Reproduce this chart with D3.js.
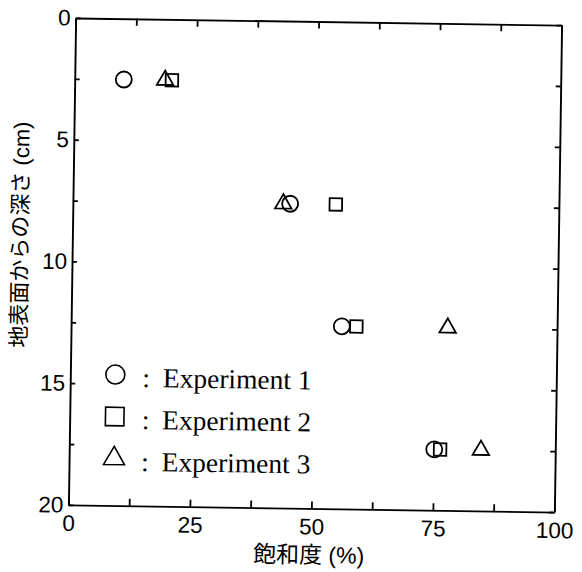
<!DOCTYPE html>
<html>
<head>
<meta charset="utf-8">
<script src="https://cdn.jsdelivr.net/npm/d3@7/dist/d3.min.js"></script>
<style>
  html, body { margin: 0; padding: 0; background: #fff; }
  svg { display: block; }
</style>
</head>
<body>
<script>
// Saturation (%) measured at each depth below the ground surface (cm)
const depths = [2.5, 7.5, 12.5, 17.5];
const experiment1 = [10.1, 44.7, 55.7, 75.1];
const experiment2 = [20.0, 54.1, 58.7, 76.3];
const experiment3 = [18.6, 43.3, 77.5, 84.7];
const seriesNames = ["Experiment 1", "Experiment 2", "Experiment 3"];
const xTicks = [0, 12.5, 25, 37.5, 50, 62.5, 75, 87.5, 100];
const xTickLabels = [0, 25, 50, 75, 100];
const yTicks = [0, 2.5, 5, 7.5, 10, 12.5, 15, 17.5, 20];
const yTickLabels = [0, 5, 10, 15, 20];
const xTitle = "飽和度 (%)";
const yTitle = "地表面からの深さ (cm)";

const W = 582, H = 572;
const plotLeft = 72, plotRight = 558, plotTop = 21.5, plotBottom = 508.5;

const svg = d3.select("body").append("svg")
  .attr("width", W).attr("height", H)
  .attr("viewBox", `0 0 ${W} ${H}`);

svg.append("rect").attr("width", W).attr("height", H).attr("fill", "#fff");

// whole figure sits slightly tilted on the page
const g = svg.append("g").attr("transform", "rotate(0.85, 315, 265)");

const x = d3.scaleLinear().domain([0, 100]).range([plotLeft, plotRight]);
const y = d3.scaleLinear().domain([0, 20]).range([plotTop, plotBottom]);

const numFont = "'Liberation Sans', Arial, sans-serif";
const serifFont = "'Liberation Serif', 'Times New Roman', serif";
const jpFont = "'Liberation Sans', 'Noto Sans CJK JP', sans-serif";

function styleAxis(sel) {
  sel.selectAll("path.domain").attr("stroke", "#000").attr("stroke-width", 1.9);
  sel.selectAll(".tick line").attr("stroke", "#000").attr("stroke-width", 1.8);
  sel.selectAll(".tick text")
    .attr("fill", "#000")
    .attr("font-family", numFont)
    .attr("font-size", 22.5);
}

const fmtX = d => xTickLabels.includes(d) ? d : "";
const fmtY = d => yTickLabels.includes(d) ? d : "";

g.append("g").attr("transform", `translate(0,${plotBottom})`)
  .call(d3.axisBottom(x).tickValues(xTicks).tickFormat(fmtX)
    .tickSize(-7).tickSizeOuter(0).tickPadding(10))
  .call(styleAxis);

g.append("g").attr("transform", `translate(0,${plotTop})`)
  .call(d3.axisTop(x).tickValues(xTicks).tickFormat("")
    .tickSize(-7).tickSizeOuter(0))
  .call(styleAxis);

g.append("g").attr("transform", `translate(${plotLeft},0)`)
  .call(d3.axisLeft(y).tickValues(yTicks).tickFormat(fmtY)
    .tickSize(-5).tickSizeOuter(0).tickPadding(5))
  .call(styleAxis);

g.append("g").attr("transform", `translate(${plotRight},0)`)
  .call(d3.axisRight(y).tickValues(yTicks).tickFormat("")
    .tickSize(-5).tickSizeOuter(0))
  .call(styleAxis);

// axis titles
g.append("text")
  .attr("x", 313).attr("y", 563)
  .attr("text-anchor", "middle")
  .attr("font-family", jpFont).attr("font-size", 23)
  .attr("fill", "#000")
  .text(xTitle);

g.append("text")
  .attr("transform", "translate(20,239) rotate(-90)")
  .attr("text-anchor", "middle")
  .attr("dominant-baseline", "central")
  .attr("font-family", jpFont).attr("font-size", 22)
  .attr("fill", "#000")
  .text(yTitle);

// markers
const symbols = [d3.symbolCircle, d3.symbolSquare, d3.symbolTriangle];
const plotSizes = [Math.PI * 8 * 8, 12.5 * 12.5, 118];
const legendSizes = [Math.PI * 9.5 * 9.5, 18.5 * 18.5, 190];
const seriesValues = [experiment1, experiment2, experiment3];

seriesValues.forEach((vals, si) => {
  const sym = d3.symbol().type(symbols[si]).size(plotSizes[si]);
  g.append("g").selectAll("path")
    .data(vals.map((v, i) => ({ sat: v, depth: depths[i] })))
    .join("path")
    .attr("transform", d => `translate(${x(d.sat)},${y(d.depth)})`)
    .attr("d", sym())
    .attr("fill", "none")
    .attr("stroke", "#000")
    .attr("stroke-width", 1.8);
});

// legend
const legend = g.append("g");
seriesNames.forEach((name, i) => {
  const cy = 377.5 + i * 42;
  legend.append("path")
    .attr("transform", `translate(117,${cy})`)
    .attr("d", d3.symbol().type(symbols[i]).size(legendSizes[i])())
    .attr("fill", "none").attr("stroke", "#000").attr("stroke-width", 1.6);
  legend.append("text")
    .attr("x", 148).attr("y", cy + 12)
    .attr("text-anchor", "middle")
    .attr("font-family", serifFont).attr("font-size", 27.5)
    .attr("fill", "#000")
    .text(":");
  legend.append("text")
    .attr("x", 164.5).attr("y", cy + 12)
    .attr("font-family", serifFont).attr("font-size", 27.5)
    .attr("fill", "#000")
    .text(name);
});
</script>
</body>
</html>
